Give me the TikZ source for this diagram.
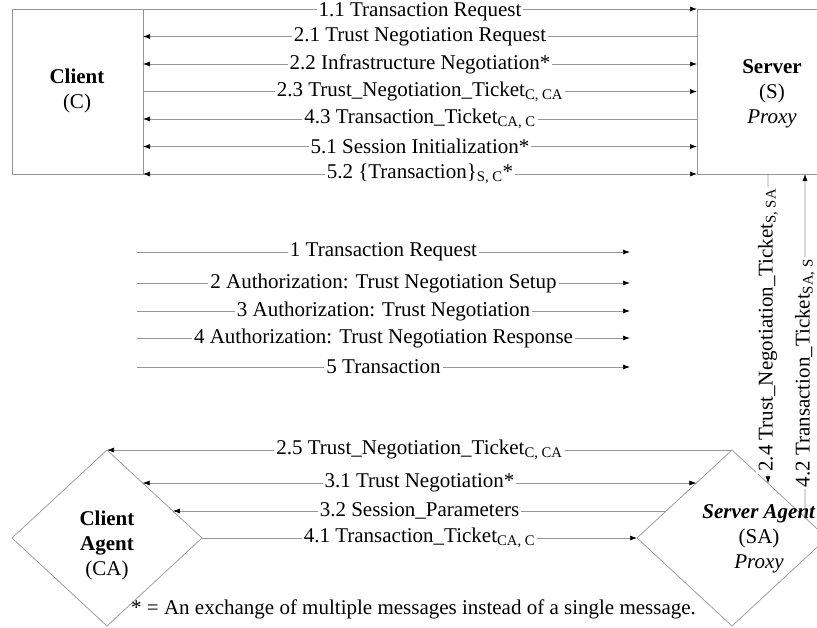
\documentclass[tikz,border=0pt]{standalone}
\usepackage{fontspec}
\setmainfont{Liberation Serif}
\usetikzlibrary{arrows.meta,shapes.geometric,calc}
\definecolor{lg}{RGB}{150,150,150}
\newcommand\dfs{\fontsize{21}{25}\selectfont}
\begin{document}
\begin{tikzpicture}[x=1pt,y=-1pt,
  >={Latex[length=7pt,width=5pt,color=black]},
  msg/.style={draw=lg,line width=0.7pt},
  lbl/.style={fill=white,inner sep=2pt,text=black,font=\dfs},
  box/.style={draw=lg,line width=0.7pt,rectangle,inner sep=0pt,outer sep=0pt},
  dia/.style={draw=lg,line width=0.7pt,diamond,inner sep=0pt,outer sep=0pt,minimum width=190pt,minimum height=176pt},
  txt/.style={align=center,font=\dfs,inner sep=0pt}]
\useasboundingbox (0,0) rectangle (817,627);
% boxes
\node[box,minimum width=131pt,minimum height=165pt] (client) at (77.5,91.5) {};
\node[box,minimum width=160pt,minimum height=165pt] (server) at (777,91.5) {};
\node[txt] (clientlbl) at (77,91) {\textbf{Client}\\(C)};
\node[txt] (serverlbl) at (772,94) {\textbf{Server}\\(S)\\\textit{Proxy}};
% top messages
\draw[msg,->] (client.north east) -- node[lbl,yshift=-2.5pt]{1.1 Transaction Request} (server.north west);
\draw[msg,<-] ($(client.north east)!0.16667!(client.south east)$) -- node[lbl]{2.1 Trust Negotiation Request} ($(server.north west)!0.16667!(server.south west)$);
\draw[msg,<->] ($(client.north east)!0.33333!(client.south east)$) -- node[lbl]{2.2 Infrastructure Negotiation*} ($(server.north west)!0.33333!(server.south west)$);
\draw[msg,->] ($(client.north east)!0.5!(client.south east)$) -- node[lbl]{2.3 Trust\_Negotiation\_Ticket\textsubscript{C, CA}} ($(server.north west)!0.5!(server.south west)$);
\draw[msg,<-] ($(client.north east)!0.66667!(client.south east)$) -- node[lbl]{4.3 Transaction\_Ticket\textsubscript{CA, C}} ($(server.north west)!0.66667!(server.south west)$);
\draw[msg,<->] ($(client.north east)!0.83333!(client.south east)$) -- node[lbl]{5.1 Session Initialization*} ($(server.north west)!0.83333!(server.south west)$);
\draw[msg,<->] (client.south east) -- node[lbl]{5.2 \{Transaction\}\textsubscript{S, C}*} (server.south west);
% legend
\coordinate (l1s) at (137,252); \coordinate (l1e) at (630,252);
\coordinate (l2s) at (137,283); \coordinate (l2e) at (630,283);
\coordinate (l3s) at (137,311); \coordinate (l3e) at (630,311);
\coordinate (l4s) at (137,338); \coordinate (l4e) at (630,338);
\coordinate (l5s) at (137,367); \coordinate (l5e) at (630,367);
\draw[msg,->] (l1s) -- node[lbl]{1 Transaction Request} (l1e);
\draw[msg,->] (l2s) -- node[lbl]{2 Authorization: Trust Negotiation Setup} (l2e);
\draw[msg,->] (l3s) -- node[lbl]{3 Authorization: Trust Negotiation} (l3e);
\draw[msg,->] (l4s) -- node[lbl]{4 Authorization: Trust Negotiation Response} (l4e);
\draw[msg,->] (l5s) -- node[lbl]{5 Transaction} (l5e);
% diamonds
\node[dia] (ca) at (107,538) {};
\node[dia] (sa) at (732,538) {};
\node[txt] (catext) at (107,545) {\textbf{Client}\\\textbf{Agent}\\(CA)};
\node[txt] (satext) at (759,539) {\textbf{\textit{Server Agent}}\\(SA)\\\textit{Proxy}};
% bottom messages
\draw[msg,<-] (ca.north) -- node[lbl]{2.5 Trust\_Negotiation\_Ticket\textsubscript{C, CA}} (sa.north);
\draw[msg,<->] ($(ca.north)!0.375!(ca.east)$) -- node[lbl]{3.1 Trust Negotiation*} ($(sa.north)!0.375!(sa.west)$);
\draw[msg,<-] ($(ca.north)!0.693!(ca.east)$) -- node[lbl]{3.2 Session\_Parameters} ($(sa.north)!0.693!(sa.west)$);
\draw[msg,->] (ca.east) -- node[lbl]{4.1 Transaction\_Ticket\textsubscript{CA, C}} (sa.west);
% vertical messages
\draw[msg,->] ($(server.south west)+(71,0)$) -- node[lbl,rotate=90,pos=0.505]{2.4 Trust\_Negotiation\_Ticket\textsubscript{S, SA}} ($(sa.north)!0.379!(sa.east)$);
\draw[msg,->] ($(sa.north)!0.768!(sa.east)$) -- node[lbl,rotate=90,pos=0.42]{4.2 Transaction\_Ticket\textsubscript{SA, S}} ($(server.south west)+(108,0)$);
% footnote
\node[txt,anchor=west] (note) at (131,609) {* = An exchange of multiple messages instead of a single message.};
\end{tikzpicture}
\end{document}
